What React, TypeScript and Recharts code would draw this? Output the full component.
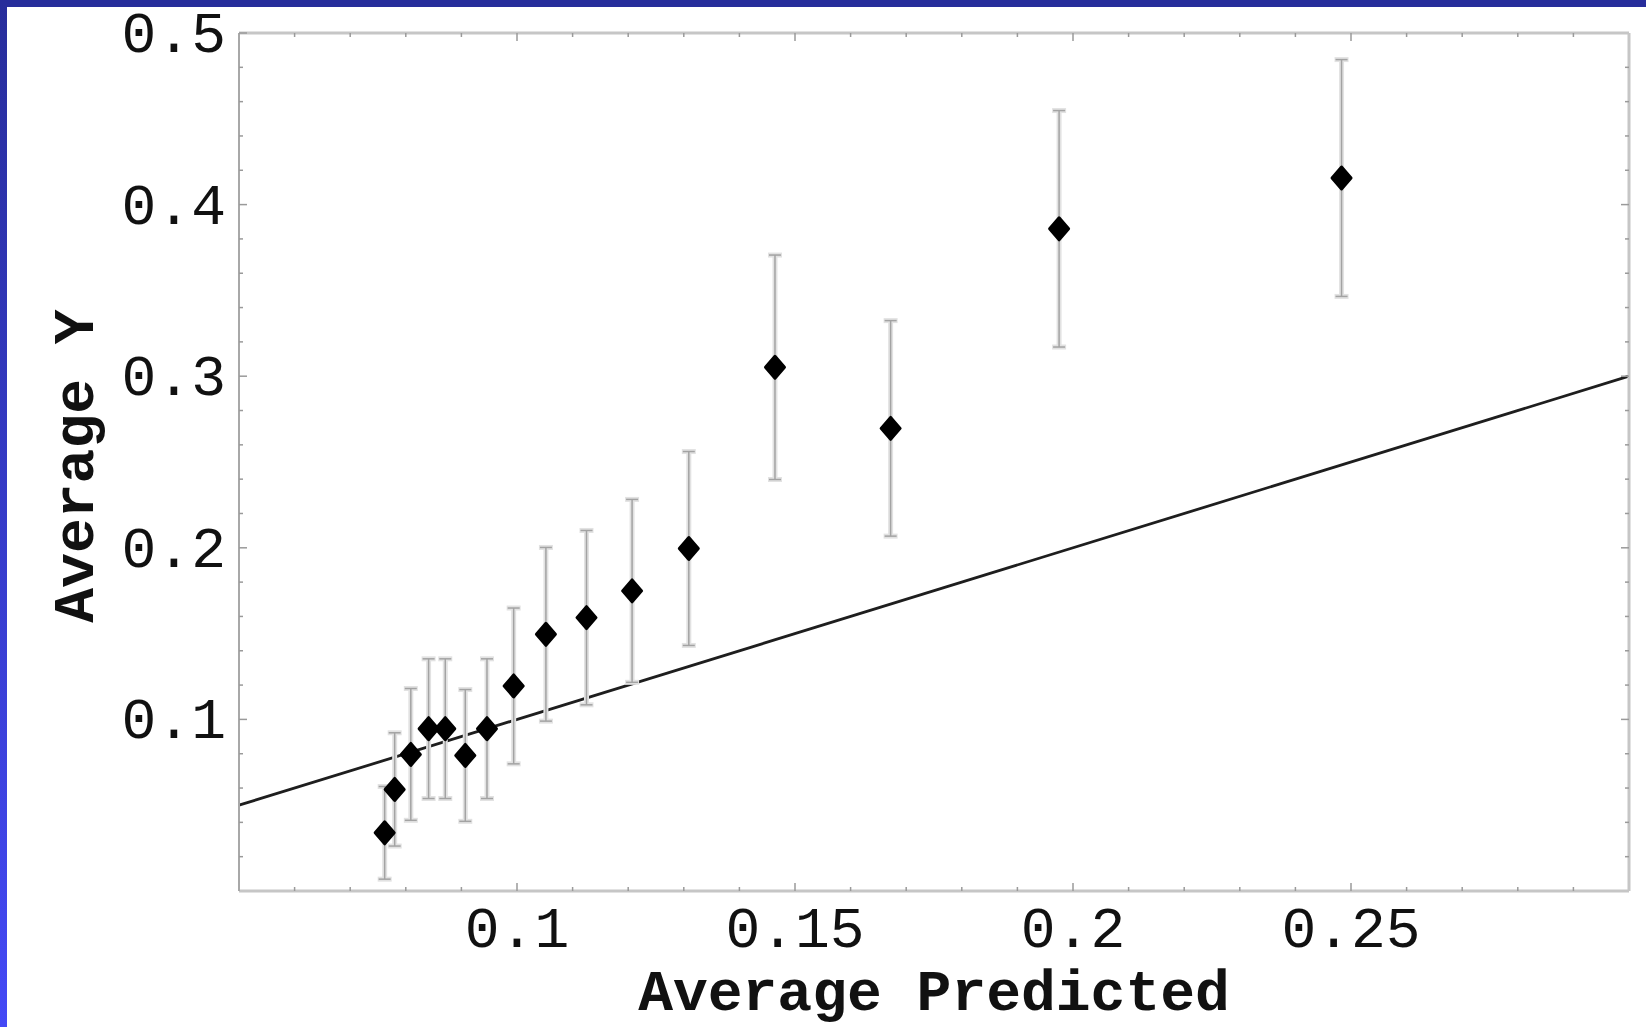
import React from "react";
import {
  ScatterChart,
  Scatter,
  XAxis,
  YAxis,
  ErrorBar,
  ReferenceLine,
} from "recharts";

// average predicted vs average observed, one point per bin
const predicted = [
  0.0762, 0.078, 0.0809, 0.0841, 0.0871, 0.0907, 0.0946, 0.0994, 0.1052,
  0.1125, 0.1207, 0.1309, 0.1464, 0.1672, 0.1975, 0.2483,
];
const observed = [
  0.0339, 0.0592, 0.0796, 0.0946, 0.0946, 0.079, 0.0946, 0.1195, 0.1496,
  0.1593, 0.1749, 0.1996, 0.3052, 0.2696, 0.3859, 0.4155,
];
const errors = [
  0.027, 0.033, 0.0384, 0.0407, 0.0407, 0.0384, 0.0407, 0.0454, 0.0506,
  0.0508, 0.0533, 0.0565, 0.0654, 0.0628, 0.0689, 0.069,
];

// y = x reference line ends
const lineX = [0.05, 0.3];
const lineY = [0.05, 0.3];

const xTicks = [
  0.06, 0.07, 0.08, 0.09, 0.1, 0.11, 0.12, 0.13, 0.14, 0.15, 0.16, 0.17, 0.18,
  0.19, 0.2, 0.21, 0.22, 0.23, 0.24, 0.25, 0.26, 0.27, 0.28, 0.29,
];
const xLabels = [0.1, 0.15, 0.2, 0.25];
const yTicks = [
  0.02, 0.04, 0.06, 0.08, 0.1, 0.12, 0.14, 0.16, 0.18, 0.2, 0.22, 0.24, 0.26,
  0.28, 0.3, 0.32, 0.34, 0.36, 0.38, 0.4, 0.42, 0.44, 0.46, 0.48,
];
const yLabels = [0.1, 0.2, 0.3, 0.4, 0.5];

const data = predicted.map((x, i) => ({ x, y: observed[i], err: errors[i] }));

const FONT = "'Liberation Mono', 'Courier New', monospace";
const TICK = "#9a9a9a";
const FRAME = { stroke: "#c6c6c6", strokeWidth: 3 };

const BottomTick = (props: any) => {
  const { x, y, payload } = props;
  const major = xLabels.includes(payload.value);
  return (
    <g>
      <line x1={x} y1={y} x2={x} y2={y - (major ? 8 : 4)} stroke={TICK} strokeWidth={1.5} />
      {major && (
        <text x={x} y={y + 56} textAnchor="middle" fontFamily={FONT} fontSize={58} fill="#111">
          {payload.value}
        </text>
      )}
    </g>
  );
};

const TopTick = (props: any) => {
  const { x, y, payload } = props;
  const major = xLabels.includes(payload.value);
  return <line x1={x} y1={y} x2={x} y2={y + (major ? 8 : 4)} stroke={TICK} strokeWidth={1.5} />;
};

const LeftTick = (props: any) => {
  const { x, y, payload } = props;
  const major = yLabels.includes(payload.value);
  return (
    <g>
      <line x1={x} y1={y} x2={x + (major ? 8 : 4)} y2={y} stroke={TICK} strokeWidth={1.5} />
      {major && (
        <text x={x - 13} y={y + 19} textAnchor="end" fontFamily={FONT} fontSize={58} fill="#111">
          {payload.value}
        </text>
      )}
    </g>
  );
};

const RightTick = (props: any) => {
  const { x, y, payload } = props;
  const major = yLabels.includes(payload.value);
  return <line x1={x} y1={y} x2={x - (major ? 8 : 4)} y2={y} stroke={TICK} strokeWidth={1.5} />;
};

const Diamond = (props: any) => {
  const { cx, cy } = props;
  if (cx == null || cy == null) return null;
  return (
    <path
      d={`M${cx},${cy - 11} L${cx + 9.5},${cy} L${cx},${cy + 11} L${cx - 9.5},${cy} Z`}
      fill="#000"
      stroke="#000"
      strokeWidth={3}
      strokeLinejoin="round"
    />
  );
};

const NoMark = () => null;

const YTitle = () => (
  <text
    x={0}
    y={0}
    transform="translate(93, 466) rotate(-90)"
    textAnchor="middle"
    fontFamily={FONT}
    fontSize={58}
    fontWeight="bold"
    fill="#111"
  >
    Average Y
  </text>
);

const XTitle = () => (
  <text x={934} y={1010} textAnchor="middle" fontFamily={FONT} fontSize={58} fontWeight="bold" fill="#111">
    Average Predicted
  </text>
);

const App = () => {
  return (
    <div
      style={{
        position: "absolute",
        left: 0,
        top: 0,
        width: 1646,
        height: 1027,
        background: "#fff",
        overflow: "hidden",
      }}
    >
      <div style={{ position: "absolute", left: 0, top: 0, width: 1646, height: 7, background: "#272d9b" }} />
      <div
        style={{
          position: "absolute",
          left: 0,
          top: 0,
          width: 7,
          height: 1027,
          background: "linear-gradient(#272d9b, #4449f6)",
        }}
      />
      <div style={{ position: "absolute", left: 0, top: 0 }}>
        <ScatterChart width={1646} height={1027} margin={{ top: 32, right: 16, bottom: 76, left: 139 }}>
          <XAxis
            xAxisId="b"
            type="number"
            dataKey="x"
            domain={[0.05, 0.3]}
            ticks={xTicks}
            interval={0}
            allowDataOverflow
            height={60}
            tickSize={0}
            tickMargin={0}
            tickLine={false}
            axisLine={FRAME}
            tick={<BottomTick />}
            label={<XTitle />}
          />
          <XAxis
            xAxisId="t"
            orientation="top"
            type="number"
            dataKey="x"
            domain={[0.05, 0.3]}
            ticks={xTicks}
            interval={0}
            allowDataOverflow
            height={1}
            tickSize={0}
            tickMargin={0}
            tickLine={false}
            axisLine={FRAME}
            tick={<TopTick />}
          />
          <YAxis
            yAxisId="l"
            type="number"
            dataKey="y"
            domain={[0, 0.5]}
            ticks={[...yTicks, 0.5]}
            interval={0}
            allowDataOverflow
            width={100}
            tickSize={0}
            tickMargin={0}
            tickLine={false}
            axisLine={{ stroke: "#a8a8a8", strokeWidth: 2 }}
            tick={<LeftTick />}
            label={<YTitle />}
          />
          <YAxis
            yAxisId="r"
            orientation="right"
            type="number"
            dataKey="y"
            domain={[0, 0.5]}
            ticks={yTicks}
            interval={0}
            allowDataOverflow
            width={1}
            tickSize={0}
            tickMargin={0}
            tickLine={false}
            axisLine={FRAME}
            tick={<RightTick />}
          />
          {/* invisible series tied to the top and right frame axes */}
          <Scatter xAxisId="t" yAxisId="r" data={data} shape={<NoMark />} isAnimationActive={false} />
          <ReferenceLine
            xAxisId="b"
            yAxisId="l"
            segment={[
              { x: lineX[0], y: lineY[0] },
              { x: lineX[1], y: lineY[1] },
            ]}
            stroke="#1e1e1e"
            strokeWidth={2.8}
          />
          <Scatter
            xAxisId="b"
            yAxisId="l"
            data={data}
            shape={<Diamond />}
            isAnimationActive={false}
          >
            <ErrorBar dataKey="err" direction="y" width={7} stroke="#e2e2e2" strokeWidth={5} isAnimationActive={false} />
            <ErrorBar dataKey="err" direction="y" width={6} stroke="#a3a3a3" strokeWidth={1.5} isAnimationActive={false} />
          </Scatter>
        </ScatterChart>
      </div>
    </div>
  );
};

export default App;
